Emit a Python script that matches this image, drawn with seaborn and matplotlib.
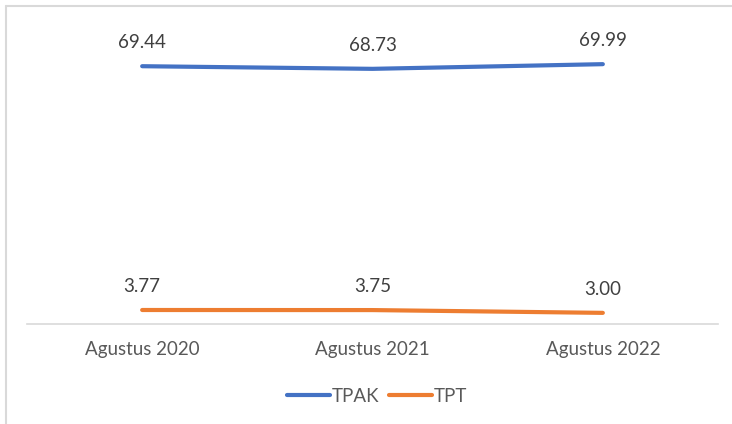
import matplotlib
matplotlib.use("Agg")
import matplotlib.pyplot as plt
import seaborn as sns
import pandas as pd
from matplotlib.lines import Line2D

# Data
periode = ["Agustus 2020", "Agustus 2021", "Agustus 2022"]
tpak = [69.44, 68.73, 69.99]
tpt = [3.77, 3.75, 3.00]

df = pd.DataFrame({
    "periode": periode * 2,
    "nilai": tpak + tpt,
    "seri": ["TPAK"] * 3 + ["TPT"] * 3,
})

sns.set_theme(style="white")
plt.rcParams["font.family"] = ["Lato", "DejaVu Sans"]

warna = {"TPAK": "#4472C4", "TPT": "#ED7D31"}

fig = plt.figure(figsize=(7.32, 4.24), dpi=100)
ax = fig.add_axes([27 / 732, 100 / 424, 691 / 732, 297 / 424])

sns.lineplot(data=df, x="periode", y="nilai", hue="seri", palette=warna,
             linewidth=3, sort=False, ax=ax, legend=False)
for line in ax.lines:
    line.set_solid_capstyle("round")

ax.set_xlim(-0.5, 2.5)
ax.set_ylim(0, 80)
ax.set_xlabel("")
ax.set_ylabel("")
ax.set_yticks([])
for s in ["top", "right", "left"]:
    ax.spines[s].set_visible(False)
ax.spines["bottom"].set_color("#d9d9d9")
ax.spines["bottom"].set_linewidth(1.2)
ax.tick_params(axis="x", length=0, pad=12, labelsize=13.5, labelcolor="#595959")

# Label nilai
for seri, vals in [("TPAK", tpak), ("TPT", tpt)]:
    for i, v in enumerate(vals):
        ax.annotate(f"{v:.2f}", (i, v), xytext=(0, 11), textcoords="offset points",
                    ha="center", va="bottom", fontsize=13.5, color="#404040")

# Legenda
handles = [Line2D([0], [0], color=warna[k], lw=3, solid_capstyle="round") for k in ["TPAK", "TPT"]]
fig.legend(handles, ["TPAK", "TPT"], loc="center", bbox_to_anchor=(377 / 732, 1 - 396 / 424),
           ncol=2, frameon=False, fontsize=13.5, handlelength=2.3, handletextpad=0.1,
           columnspacing=0.5, labelcolor="#595959")

# Bingkai
fig.add_artist(plt.Line2D([6 / 732, 6 / 732], [0, 1 - 6 / 424], color="#d9d9d9", lw=1.5,
                          transform=fig.transFigure))
fig.add_artist(plt.Line2D([6 / 732, 1], [1 - 6 / 424, 1 - 6 / 424], color="#d9d9d9", lw=1.5,
                          transform=fig.transFigure))

fig.savefig("out.png", dpi=100, facecolor="white")
